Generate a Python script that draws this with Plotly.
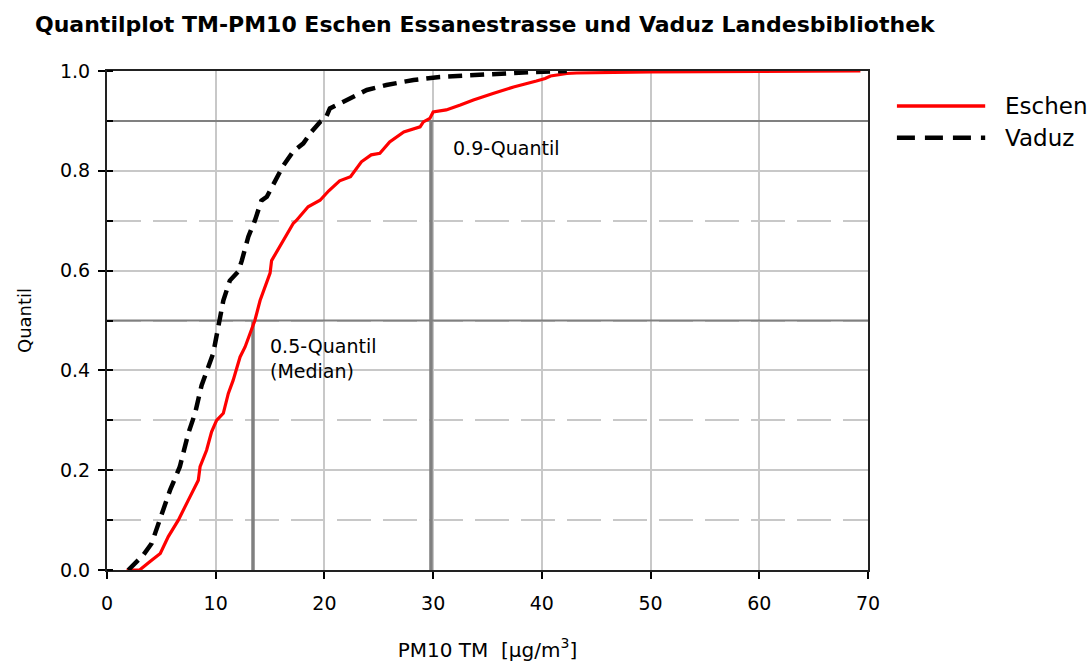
import plotly.graph_objects as go

# PM10 daily means (µg/m3) vs. cumulative quantile
eschen_pm10 = [1.8, 3.0, 3.96, 4.9, 5.64, 6.56, 7.48, 8.4, 8.56, 9.16, 9.62, 10.08, 10.7,
               11.16, 11.6, 12.24, 12.7, 13.6, 14.08, 15.0, 15.14, 15.9, 16.8, 17.14,
               17.4, 18.5, 19.6, 20.4, 21.4, 22.4, 23.4, 24.3, 25.1, 26.0, 27.3, 28.8,
               29.1, 29.7, 30.0, 31.2, 32.5, 33.7, 35.5, 37.4, 39.5, 40.3, 40.8, 42.3,
               43.2, 50.0, 60.0, 69.3]
eschen_q = [0.0, 0.0, 0.017, 0.033, 0.067, 0.10, 0.14, 0.18, 0.207, 0.24, 0.277, 0.30, 0.314,
            0.354, 0.38, 0.427, 0.447, 0.50, 0.54, 0.595, 0.62, 0.648, 0.68, 0.695,
            0.70, 0.728, 0.741, 0.76, 0.78, 0.788, 0.818, 0.832, 0.835, 0.858, 0.878, 0.888,
            0.898, 0.905, 0.918, 0.922, 0.932, 0.942, 0.955, 0.968, 0.98, 0.985, 0.99, 0.995,
            0.996, 0.998, 0.999, 1.0]

vaduz_pm10 = [1.96, 3.34, 4.1, 4.88, 5.8, 6.7, 7.48, 8.1, 8.7, 9.77, 10.4, 10.7, 11.3, 12.07,
              12.4, 13.0, 13.6, 14.2, 14.7, 15.6, 16.2, 17.1, 18.06, 18.8, 19.6, 20.1, 20.5,
              21.7, 22.7, 23.9, 25.7, 28.2, 30.6, 33.7, 36.8, 39.2, 42.3]
vaduz_q = [0.0, 0.03, 0.053, 0.10, 0.16, 0.207, 0.274, 0.314, 0.37, 0.434, 0.50, 0.54, 0.58,
           0.598, 0.62, 0.668, 0.70, 0.74, 0.748, 0.788, 0.81, 0.838, 0.855, 0.878, 0.898,
           0.905, 0.925, 0.938, 0.948, 0.962, 0.972, 0.982, 0.988, 0.992, 0.995, 0.998, 1.0]

# Reference quantiles of Eschen
ref_levels = [0.5, 0.9]
ref_pm10 = [13.43, 29.8]
ref_labels = ["0.5-Quantil<br>(Median)", "0.9-Quantil"]
ref_label_pos = [(14.8, 0.424), (31.65, 0.846)]

series_names = ["Eschen", "Vaduz"]
x_ticks = [0, 10, 20, 30, 40, 50, 60, 70]
y_ticks = [0.0, 0.2, 0.4, 0.6, 0.8, 1.0]

FONT = "DejaVu Sans"
GREY_REF = "#808080"
GRID = "#c8c8c8"

fig = go.Figure()

fig.add_trace(go.Scatter(x=eschen_pm10, y=eschen_q, mode="lines", name=series_names[0],
                         line=dict(color="#ff0000", width=3.2), showlegend=False))
fig.add_trace(go.Scatter(x=vaduz_pm10, y=vaduz_q, mode="lines", name=series_names[1],
                         line=dict(color="#000000", width=4.5, dash="14px,8px"),
                         showlegend=False))

shapes = []
for lvl, xv in zip(ref_levels, ref_pm10):
    shapes.append(dict(type="line", xref="x", yref="y", x0=0, x1=70, y0=lvl, y1=lvl,
                       line=dict(color=GREY_REF, width=2), layer="between"))
    shapes.append(dict(type="line", xref="x", yref="y", x0=xv, x1=xv, y0=0, y1=lvl,
                       line=dict(color=GREY_REF, width=3.5), layer="between"))

# manual legend (long line samples as in the reference)
leg_y = [0.930, 0.866]
shapes.append(dict(type="line", xref="paper", yref="paper", x0=1.038, x1=1.154,
                   y0=leg_y[0], y1=leg_y[0], line=dict(color="#ff0000", width=3.5)))
shapes.append(dict(type="line", xref="paper", yref="paper", x0=1.038, x1=1.154,
                   y0=leg_y[1], y1=leg_y[1], line=dict(color="#000000", width=4.5, dash="18px,10px")))

annotations = []
for txt, (ax, ay) in zip(ref_labels, ref_label_pos):
    annotations.append(dict(x=ax, y=ay, xref="x", yref="y", text=txt, showarrow=False,
                            xanchor="left", yanchor="middle", align="left",
                            font=dict(family=FONT, size=19, color="#000")))
for name, ly in zip(series_names, leg_y):
    annotations.append(dict(x=1.178, y=ly, xref="paper", yref="paper", text=name,
                            showarrow=False, xanchor="left", yanchor="middle",
                            font=dict(family=FONT, size=23, color="#000")))

fig.update_layout(
    width=1092, height=665,
    margin=dict(l=107, r=224, t=71, b=95),
    paper_bgcolor="white", plot_bgcolor="white",
    title=dict(text="<b>Quantilplot TM-PM10 Eschen Essanestrasse und Vaduz Landesbibliothek</b>",
               x=35 / 1092, xref="container", xanchor="left",
               y=1 - 24 / 665, yref="container", yanchor="middle",
               font=dict(family=FONT, size=22, color="#000")),
    shapes=shapes, annotations=annotations, showlegend=False,
    font=dict(family=FONT, color="#000"),
)

fig.update_xaxes(range=[0, 70], tickvals=x_ticks, ticks="outside", ticklen=7, tickwidth=1.5,
                 tickcolor="#000", showline=True, linecolor="#222", linewidth=2, mirror=True,
                 showgrid=True, gridcolor=GRID, gridwidth=1.5, zeroline=False, automargin=False,
                 tickfont=dict(family=FONT, size=19), ticklabelstandoff=8,
                 title=dict(text="PM10 TM  [µg/m<sup>3</sup>]", font=dict(family=FONT, size=20),
                            standoff=30))
fig.update_yaxes(range=[0, 1.0], tickvals=y_ticks, tickformat=".1f", ticks="outside",
                 ticklen=7, tickwidth=1.5, tickcolor="#000", showline=True, linecolor="#222",
                 linewidth=2, mirror=True, showgrid=True, gridcolor=GRID, gridwidth=1.5,
                 zeroline=False, automargin=False, tickfont=dict(family=FONT, size=19),
                 ticklabelstandoff=4,
                 minor=dict(dtick=0.1, tick0=0, ticks="inside", ticklen=6, tickcolor="#000",
                            showgrid=True, gridcolor=GRID, gridwidth=1.5, griddash="34px,12px"),
                 title=dict(text="Quantil", font=dict(family=FONT, size=18), standoff=24))

fig.write_html("out.html")
